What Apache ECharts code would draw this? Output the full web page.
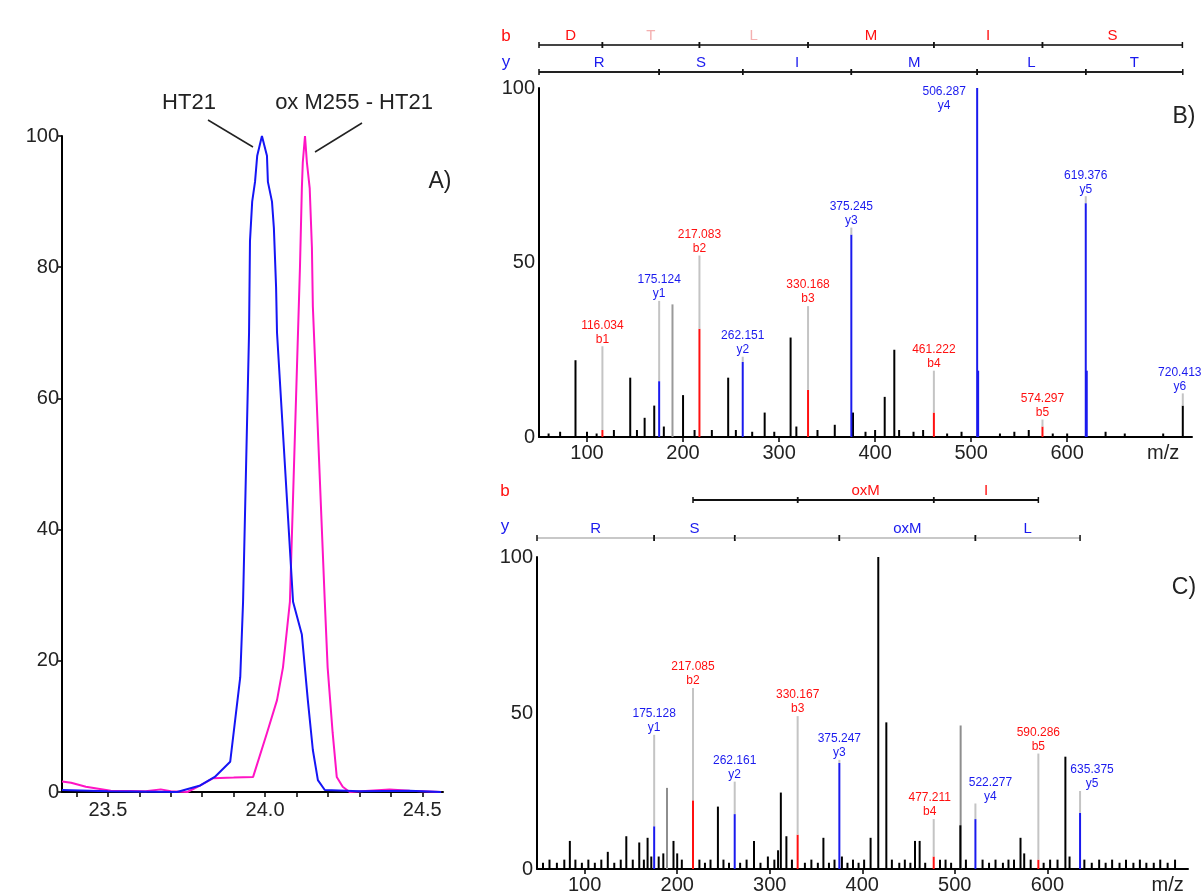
<!DOCTYPE html>
<html>
<head>
<meta charset="utf-8">
<script src="https://cdn.jsdelivr.net/npm/echarts@6/dist/echarts.min.js"></script>
<style>
  html, body { margin: 0; padding: 0; background: #fff; }
  #main { width: 1201px; height: 895px; }
</style>
</head>
<body>
<div id="main"></div>
<script>
  // A) extracted ion chromatograms
  var ht21Rt = [23.354, 23.50, 23.72, 23.794, 23.84, 23.889, 23.921, 23.930, 23.949, 23.952, 23.959, 23.968, 23.975, 23.990, 24.006, 24.009, 24.022, 24.028, 24.035, 24.038, 24.089, 24.117, 24.136, 24.152, 24.168, 24.190, 24.30, 24.459, 24.56]
  var ht21Int = [0.3, 0.1, 0, 1.0, 2.3, 4.6, 17.5, 29, 70, 84, 90, 93, 97, 100, 97, 93, 90, 86, 77, 70, 29, 24, 14, 6.4, 1.8, 0.3, 0.1, 0.2, 0]
  var oxRt = [23.354, 23.383, 23.43, 23.509, 23.62, 23.668, 23.70, 23.753, 23.794, 23.835, 23.90, 23.962, 24.006, 24.038, 24.057, 24.079, 24.111, 24.117, 24.120, 24.127, 24.133, 24.142, 24.149, 24.152, 24.190, 24.199, 24.215, 24.228, 24.247, 24.269, 24.396, 24.46, 24.56]
  var oxInt = [1.6, 1.4, 0.8, 0.2, 0.1, 0.4, 0.1, 0, 1.0, 2.1, 2.2, 2.3, 9, 14, 19, 29, 80, 92, 96, 100, 96, 92, 83, 74, 29, 19, 9, 2.3, 0.8, 0, 0.4, 0.2, 0]
  var rtTicks = [23.4, 23.5, 23.6, 23.7, 23.8, 23.9, 24.0, 24.1, 24.2, 24.3, 24.4, 24.5]
  var rtLabels = [23.5, 24.0, 24.5]

  // B) MS/MS of HT21
  var bBlack = [[60, 1], [72, 1.5], [88, 22], [100, 1.5], [110, 1], [128, 2], [145, 17], [152, 2], [160, 5.5], [170, 9], [180, 3], [200, 12], [212, 2], [230, 2], [247, 17], [255, 2], [272, 1.5], [285, 7], [295, 1.5], [312, 28.5], [318, 3], [340, 2], [358, 3.5], [377, 7], [390, 1.5], [400, 2], [410, 11.5], [420, 25], [425, 2], [440, 1.5], [450, 2], [475, 1], [490, 1.5], [530, 1], [545, 1.5], [560, 2], [585, 1], [600, 1], [640, 1.5], [660, 1], [700, 1], [720.41, 9]]
  var bBlue = [[175.12, 16], [262.15, 21.5], [375.24, 58], [506.28, 100], [507.3, 19], [619.36, 67], [620.4, 19]]
  var bRed = [[116.03, 2], [217.08, 31], [330.17, 13.5], [461.21, 7], [574.29, 3]]
  var bGray = [[189, 38]]
  var bAnnMz = [116.03, 175.12, 217.08, 262.15, 330.17, 375.24, 461.21, 506.28, 574.29, 619.36, 720.41]
  var bAnnText = ['116.034\nb1', '175.124\ny1', '217.083\nb2', '262.151\ny2', '330.168\nb3', '375.245\ny3', '461.222\nb4', '506.287\ny4', '574.297\nb5', '619.376\ny5', '720.413\ny6']
  var bLadderB = [50, 116.03, 217.08, 330.17, 461.21, 574.29, 720.0]
  var bResB = ['D', 'T', 'L', 'M', 'I', 'S']
  var bLadderY = [50, 175.12, 262.15, 375.24, 506.28, 619.36, 720.41]
  var bResY = ['R', 'S', 'I', 'M', 'L', 'T']

  // C) MS/MS of ox M255 - HT21
  var cBlack = [[55, 2], [62, 3], [70, 2], [78, 3], [84, 9], [90, 3], [97, 2], [104, 3], [111, 2], [118, 3], [125, 5.5], [132, 2], [139, 3], [145, 10.5], [152, 3], [159, 8.5], [164, 3], [168, 10], [172, 4], [180, 4], [185, 5], [196, 9], [200, 5], [205, 3], [224, 3], [230, 2], [236, 3], [244, 20], [250, 3], [256, 2], [268, 2], [275, 3], [283, 9], [290, 2], [298, 4], [305, 3], [309, 6], [312, 24.5], [318, 10.5], [324, 3], [338, 2], [345, 3], [352, 2], [358, 10], [364, 2], [370, 3], [378, 4], [384, 2], [390, 3], [396, 2], [402, 3], [409, 10], [417.3, 100], [426, 47], [432, 3], [440, 2], [446, 3], [452, 2], [457, 9], [462, 9], [468, 2], [484, 3], [490, 3], [496, 2], [506, 14], [512, 3], [530, 3], [537, 2], [544, 3], [552, 2], [558, 3], [564, 3], [571, 10], [575, 5], [582, 3], [596, 2], [603, 3], [611, 3], [619.5, 36], [624, 4], [640, 3], [648, 2], [656, 3], [663, 2], [670, 3], [678, 2], [685, 3], [693, 2], [700, 3], [707, 2], [715, 2], [722, 3], [730, 2], [738, 3]]
  var cBlue = [[175.12, 13.7], [262.15, 17.6], [375.24, 34], [522.27, 16], [635.35, 18]]
  var cRed = [[217.08, 22], [330.17, 11], [477.2, 4], [590.29, 3]]
  var cGray = [[189, 26], [506.3, 46]]
  var cAnnMz = [175.12, 217.08, 262.15, 330.17, 375.24, 477.2, 522.27, 590.29, 635.35]
  var cAnnText = ['175.128\ny1', '217.085\nb2', '262.161\ny2', '330.167\nb3', '375.247\ny3', '477.211\nb4', '522.277\ny4', '590.286\nb5', '635.375\ny5']
  var cLadderB = [217.08, 330.17, 477.2, 590.29]
  var cResB = ['', 'oxM', 'I']
  var cLadderY = [48.5, 175.12, 262.15, 375.24, 522.27, 635.35]
  var cResY = ['R', 'S', '', 'oxM', 'L']

  var mzTicks = [100, 200, 300, 400, 500, 600]

  // label placement (intensity level of label bottom, pixel shift)
  var bAnnLevel = [26, 39, 52, 23, 37.5, 60, 19, 93, 5, 69, 12.5]
  var bAnnDx = [0, 0, 0, 0, 0, 0, 0, -33, 0, 0, -3]
  var cAnnLevel = [43, 58, 28, 49, 35, 16, 21, 37, 25]
  var cAnnDx = [0, 0, 0, 0, 0, -4, 15, 0, 12]

  var FONT = 'Liberation Sans, Arial, sans-serif'
  var RED = '#ff1010'
  var BLUE = '#1a1aee'

  function zip (a, b) {
    return a.map(function (v, i) { return [v, b[i]] })
  }

  function stickSeries (data, color, axis) {
    return {
      type: 'custom',
      xAxisIndex: axis,
      yAxisIndex: axis,
      clip: false,
      silent: true,
      data: data,
      encode: { x: 0, y: 1 },
      renderItem: function (params, api) {
        var p0 = api.coord([api.value(0), 0])
        var p1 = api.coord([api.value(0), api.value(1)])
        return {
          type: 'line',
          shape: { x1: p0[0], y1: p0[1], x2: p1[0], y2: p1[1] },
          style: { stroke: color, lineWidth: 2 }
        }
      }
    }
  }

  function peakTop (mz, groups) {
    var top = 0
    groups.forEach(function (g) {
      g.forEach(function (p) {
        if (Math.abs(p[0] - mz) < 1.5 && p[1] > top) top = p[1]
      })
    })
    return top
  }

  function annSeries (mzs, texts, levels, dxs, groups, axis) {
    return {
      type: 'custom',
      xAxisIndex: axis,
      yAxisIndex: axis,
      clip: false,
      silent: true,
      z: 5,
      data: mzs.map(function (m, i) { return [m, levels[i], i] }),
      encode: { x: 0, y: 1 },
      renderItem: function (params, api) {
        var i = api.value(2)
        var mz = api.value(0)
        var txt = texts[i]
        var color = txt.indexOf('\nb') >= 0 ? RED : BLUE
        var pl = api.coord([mz, api.value(1)])
        var pt = api.coord([mz, peakTop(mz, groups)])
        var children = []
        if (pt[1] - pl[1] > 3) {
          children.push({
            type: 'line',
            shape: { x1: pt[0], y1: pl[1], x2: pt[0], y2: pt[1] },
            style: { stroke: '#c4c4c4', lineWidth: 2 }
          })
        }
        children.push({
          type: 'text',
          style: {
            text: txt, x: pl[0] + dxs[i], y: pl[1],
            align: 'center', verticalAlign: 'bottom',
            textAlign: 'center', textVerticalAlign: 'bottom',
            fill: color, fontSize: 12, lineHeight: 14, fontFamily: FONT
          }
        })
        return { type: 'group', children: children }
      }
    }
  }

  function ladderSeries (marks, residues, yOff, lineColor, textColor, faint, axis) {
    return {
      type: 'custom',
      xAxisIndex: axis,
      yAxisIndex: axis,
      clip: false,
      silent: true,
      data: residues.map(function (r, i) { return [marks[i], marks[i + 1], i] }),
      encode: { x: [0, 1] },
      renderItem: function (params, api) {
        var i = api.value(2)
        var x0 = api.coord([api.value(0), 0])[0]
        var x1 = api.coord([api.value(1), 0])[0]
        var y = params.coordSys.y - yOff
        var tc = faint.indexOf(i) >= 0 ? '#f4b0b0' : textColor
        return {
          type: 'group',
          children: [
            { type: 'line', shape: { x1: x0, y1: y, x2: x1, y2: y }, style: { stroke: lineColor, lineWidth: 2 } },
            { type: 'line', shape: { x1: x0, y1: y - 3, x2: x0, y2: y + 3 }, style: { stroke: '#111', lineWidth: 1.5 } },
            { type: 'line', shape: { x1: x1, y1: y - 3, x2: x1, y2: y + 3 }, style: { stroke: '#111', lineWidth: 1.5 } },
            {
              type: 'text',
              style: {
                text: residues[i], x: (x0 + x1) / 2, y: y - 2,
                align: 'center', verticalAlign: 'bottom',
                textAlign: 'center', textVerticalAlign: 'bottom',
                fill: tc, fontSize: 15, fontFamily: FONT
              }
            }
          ]
        }
      }
    }
  }

  function axisCommon () {
    return {
      axisLine: { show: true, onZero: false, lineStyle: { color: '#000', width: 2 } },
      axisTick: { show: true, inside: false, length: 5, lineStyle: { color: '#000', width: 1.5 } },
      axisLabel: { color: '#222', fontSize: 20, fontFamily: FONT },
      splitLine: { show: false }
    }
  }

  function mzAxis (idx, min, max, nameAt) {
    var a = axisCommon()
    a.gridIndex = idx
    a.type = 'value'
    a.min = min
    a.max = max
    a.axisTick.customValues = mzTicks
    a.axisLabel.customValues = mzTicks.concat([nameAt])
    a.axisLabel.margin = 6
    a.axisLabel.formatter = function (v) { return v === nameAt ? 'm/z' : String(v) }
    return a
  }

  function intAxis (idx, interval) {
    var a = axisCommon()
    a.gridIndex = idx
    a.type = 'value'
    a.min = 0
    a.max = 100
    a.interval = interval
    a.axisLabel.margin = 4
    return a
  }

  var chart = echarts.init(document.getElementById('main'), null, { renderer: 'canvas' })

  var xA = axisCommon()
  xA.type = 'value'
  xA.gridIndex = 0
  xA.min = 23.354
  xA.max = 24.566
  xA.axisTick.customValues = rtTicks
  xA.axisLabel.customValues = rtLabels
  xA.axisLabel.margin = 8
  xA.axisLabel.formatter = function (v) { return v.toFixed(1) }

  var yA = intAxis(0, 20)
  yA.axisLabel.margin = 3

  var yB = intAxis(1, 50)
  yB.axisTick.show = false
  var yC = intAxis(2, 50)
  yC.axisTick.show = false

  var option = {
    backgroundColor: '#fff',
    animation: false,
    grid: [
      { left: 62, top: 136, width: 381, height: 656 },
      { left: 539, top: 88, width: 653, height: 349 },
      { left: 537, top: 557, width: 651, height: 313 }
    ],
    xAxis: [xA, mzAxis(1, 50, 730, 700), mzAxis(2, 48.5, 752, 730)],
    yAxis: [yA, yB, yC],
    graphic: [
      { type: 'text', style: { text: 'HT21', x: 189, y: 103, align: 'center', verticalAlign: 'middle', textAlign: 'center', textVerticalAlign: 'middle', fontSize: 22, fontFamily: FONT, fill: '#222' } },
      { type: 'text', style: { text: 'ox M255 - HT21', x: 354, y: 103, align: 'center', verticalAlign: 'middle', textAlign: 'center', textVerticalAlign: 'middle', fontSize: 22, fontFamily: FONT, fill: '#222' } },
      { type: 'line', shape: { x1: 208, y1: 120, x2: 253, y2: 147 }, style: { stroke: '#222', lineWidth: 1.5 } },
      { type: 'line', shape: { x1: 362, y1: 123, x2: 315, y2: 152 }, style: { stroke: '#222', lineWidth: 1.5 } },
      { type: 'text', style: { text: 'A)', x: 440, y: 182, align: 'center', verticalAlign: 'middle', textAlign: 'center', textVerticalAlign: 'middle', fontSize: 23, fontFamily: FONT, fill: '#222' } },
      { type: 'text', style: { text: 'B)', x: 1184, y: 117, align: 'center', verticalAlign: 'middle', textAlign: 'center', textVerticalAlign: 'middle', fontSize: 23, fontFamily: FONT, fill: '#222' } },
      { type: 'text', style: { text: 'C)', x: 1184, y: 588, align: 'center', verticalAlign: 'middle', textAlign: 'center', textVerticalAlign: 'middle', fontSize: 23, fontFamily: FONT, fill: '#222' } },
      { type: 'text', style: { text: 'b', x: 506, y: 36, align: 'center', verticalAlign: 'middle', textAlign: 'center', textVerticalAlign: 'middle', fontSize: 17, fontFamily: FONT, fill: RED } },
      { type: 'text', style: { text: 'y', x: 506, y: 62, align: 'center', verticalAlign: 'middle', textAlign: 'center', textVerticalAlign: 'middle', fontSize: 17, fontFamily: FONT, fill: BLUE } },
      { type: 'text', style: { text: 'b', x: 505, y: 491, align: 'center', verticalAlign: 'middle', textAlign: 'center', textVerticalAlign: 'middle', fontSize: 17, fontFamily: FONT, fill: RED } },
      { type: 'text', style: { text: 'y', x: 505, y: 526, align: 'center', verticalAlign: 'middle', textAlign: 'center', textVerticalAlign: 'middle', fontSize: 17, fontFamily: FONT, fill: BLUE } }
    ],
    series: [
      {
        name: 'HT21', type: 'line', xAxisIndex: 0, yAxisIndex: 0,
        data: zip(ht21Rt, ht21Int), showSymbol: false, symbol: 'none',
        lineStyle: { color: '#1515f5', width: 2 }, z: 3
      },
      {
        name: 'ox M255 - HT21', type: 'line', xAxisIndex: 0, yAxisIndex: 0,
        data: zip(oxRt, oxInt), showSymbol: false, symbol: 'none',
        lineStyle: { color: '#ff14c4', width: 2 }, z: 2
      },
      stickSeries(bGray, '#9a9a9a', 1),
      stickSeries(bBlack, '#000', 1),
      stickSeries(bRed, RED, 1),
      stickSeries(bBlue, BLUE, 1),
      annSeries(bAnnMz, bAnnText, bAnnLevel, bAnnDx, [bBlack, bBlue, bRed, bGray], 1),
      ladderSeries(bLadderB, bResB, 43, '#444', RED, [1, 2], 1),
      ladderSeries(bLadderY, bResY, 16, '#222', BLUE, [], 1),
      stickSeries(cGray, '#8e8e8e', 2),
      stickSeries(cBlack, '#000', 2),
      stickSeries(cRed, RED, 2),
      stickSeries(cBlue, BLUE, 2),
      annSeries(cAnnMz, cAnnText, cAnnLevel, cAnnDx, [cBlack, cBlue, cRed, cGray], 2),
      ladderSeries(cLadderB, cResB, 57, '#111', RED, [], 2),
      ladderSeries(cLadderY, cResY, 19, '#c8c8c8', BLUE, [], 2)
    ]
  }

  chart.setOption(option)
</script>
</body>
</html>
